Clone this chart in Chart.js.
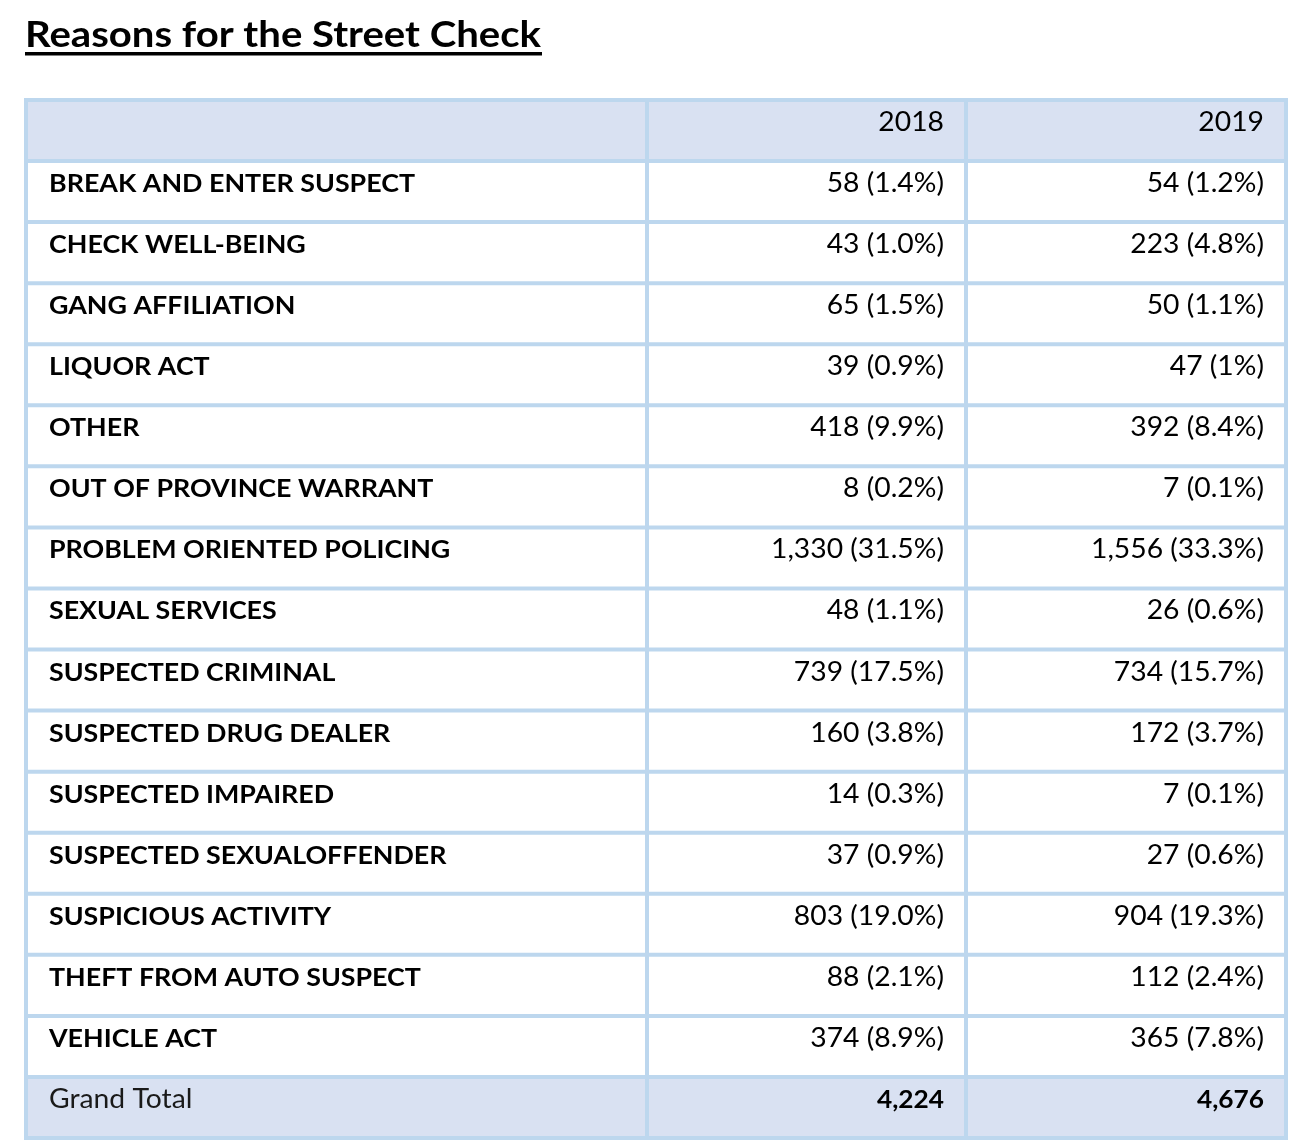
<!DOCTYPE html>
<html>
<head>
<meta charset="utf-8">
<script src="https://cdn.jsdelivr.net/npm/chart.js@4/dist/chart.umd.min.js"></script>
<style>
  body { margin: 0; background: #fff; }
  #wrap { width: 1296px; height: 1148px; position: relative; }
</style>
</head>
<body>
<div id="wrap"><canvas id="table"></canvas></div>
<script>
const title = "Reasons for the Street Check";
const years = ["2018", "2019"];
const categories = [
  "BREAK AND ENTER SUSPECT", "CHECK WELL-BEING", "GANG AFFILIATION", "LIQUOR ACT",
  "OTHER", "OUT OF PROVINCE WARRANT", "PROBLEM ORIENTED POLICING", "SEXUAL SERVICES",
  "SUSPECTED CRIMINAL", "SUSPECTED DRUG DEALER", "SUSPECTED IMPAIRED",
  "SUSPECTED SEXUALOFFENDER", "SUSPICIOUS ACTIVITY", "THEFT FROM AUTO SUSPECT", "VEHICLE ACT"
];
const counts2018 = [58, 43, 65, 39, 418, 8, 1330, 48, 739, 160, 14, 37, 803, 88, 374];
const pct2018 = ["1.4%", "1.0%", "1.5%", "0.9%", "9.9%", "0.2%", "31.5%", "1.1%", "17.5%", "3.8%", "0.3%", "0.9%", "19.0%", "2.1%", "8.9%"];
const counts2019 = [54, 223, 50, 47, 392, 7, 1556, 26, 734, 172, 7, 27, 904, 112, 365];
const pct2019 = ["1.2%", "4.8%", "1.1%", "1%", "8.4%", "0.1%", "33.3%", "0.6%", "15.7%", "3.7%", "0.1%", "0.6%", "19.3%", "2.4%", "7.8%"];
const totalLabel = "Grand Total";
const totals = [4224, 4676];

// layout (style only)
const colEdges = [0, 621, 940, 1260];
const headFill = "#D9E1F2";
const lineColor = "#BDD7EE";
const FONT = "Lato, 'Open Sans', sans-serif";

const fmt = n => n.toLocaleString("en-US");
const rowLabels = ["", ...categories, totalLabel];
const isShaded = i => i === 0 || i === rowLabels.length - 1;

// text for each cell: [label, col 2018, col 2019]
const cellText = rowLabels.map((lab, i) => {
  if (i === 0) return ["", years[0], years[1]];
  if (i === rowLabels.length - 1) return [lab, fmt(totals[0]), fmt(totals[1])];
  const k = i - 1;
  return [lab, `${fmt(counts2018[k])} (${pct2018[k]})`, `${fmt(counts2019[k])} (${pct2019[k]})`];
});

const datasets = [0, 1, 2].map(c => ({
  label: c === 0 ? "Reason" : years[c - 1],
  data: rowLabels.map(() => [colEdges[c], colEdges[c + 1]]),
  backgroundColor: rowLabels.map((_, i) => isShaded(i) ? headFill : "#ffffff"),
  borderWidth: 0,
  grouped: false,
  barPercentage: 1,
  categoryPercentage: 1
}));

// draw text squeezed to a Calibri-like width
function squeezeText(ctx, txt, x, y, font, factor, align) {
  ctx.save();
  ctx.font = font;
  ctx.textAlign = align;
  ctx.textBaseline = "alphabetic";
  ctx.translate(x, y);
  ctx.scale(factor, 1);
  ctx.fillText(txt, 0, 0);
  ctx.restore();
}
function factorFor(ctx, font, ref, width) {
  ctx.save();
  ctx.font = font;
  const w = ctx.measureText(ref).width;
  ctx.restore();
  return width / w;
}

const tablePlugin = {
  id: "tableGrid",
  afterDatasetsDraw(chart) {
    const { ctx, chartArea: a, scales: { x, y } } = chart;
    const step = y.getPixelForValue(1) - y.getPixelForValue(0);
    const boldF = `bold 25px ${FONT}`;
    const regF = `26px ${FONT}`;
    const titleF = `bold 37px ${FONT}`;
    const fb = factorFor(ctx, boldF, "BREAK AND ENTER SUSPECT", 366);
    const fr = factorFor(ctx, regF, "1,330 (31.5%)", 173);
    const ft = factorFor(ctx, titleF, title, 516);

    // grid lines
    ctx.save();
    ctx.strokeStyle = lineColor;
    ctx.lineWidth = 4;
    ctx.beginPath();
    for (let i = 0; i <= rowLabels.length; i++) {
      const yy = y.getPixelForValue(i) - step / 2;
      ctx.moveTo(a.left - 2, yy);
      ctx.lineTo(a.right + 2, yy);
    }
    colEdges.forEach(e => {
      const xx = x.getPixelForValue(e);
      ctx.moveTo(xx, a.top - 2);
      ctx.lineTo(xx, a.bottom + 2);
    });
    ctx.stroke();
    ctx.restore();

    // cell text
    cellText.forEach((row, i) => {
      const top = y.getPixelForValue(i) - step / 2;
      const base = top + 31;
      const last = i === rowLabels.length - 1;
      if (row[0]) {
        ctx.fillStyle = last ? "#1a1a1a" : "#000";
        squeezeText(ctx, row[0], x.getPixelForValue(colEdges[0]) + 23, base, last ? regF : boldF, last ? fr : fb, "left");
      }
      ctx.fillStyle = "#000";
      for (let c = 1; c <= 2; c++) {
        const xr = x.getPixelForValue(colEdges[c + 1]) - 22;
        squeezeText(ctx, row[c], xr, base, last ? boldF : regF, last ? fb * 0.98 : fr, "right");
      }
    });

    // title with underline
    ctx.fillStyle = "#000";
    squeezeText(ctx, title, 25, 47, titleF, ft, "left");
    ctx.fillRect(25, 52, 517, 3.5);
  }
};

new Chart(document.getElementById("table"), {
  type: "bar",
  data: { labels: rowLabels, datasets },
  options: {
    indexAxis: "y",
    responsive: true,
    maintainAspectRatio: false,
    animation: false,
    events: [],
    layout: { padding: { left: 26, top: 100, right: 10, bottom: 10 } },
    plugins: { legend: { display: false }, tooltip: { enabled: false } },
    scales: {
      x: { type: "linear", min: colEdges[0], max: colEdges[3], display: false },
      y: { type: "category", display: false, offset: true }
    }
  },
  plugins: [tablePlugin]
});
</script>
</body>
</html>
